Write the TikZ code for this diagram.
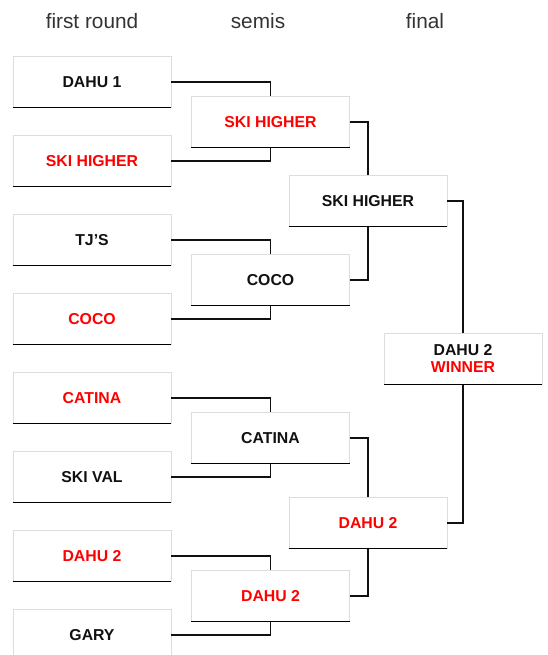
\documentclass[tikz,border=0pt]{standalone}
\usepackage{fontspec}
\setmainfont{Liberation Sans}
\definecolor{winred}{HTML}{FF0000}
\definecolor{txt}{HTML}{111111}
\definecolor{hdr}{HTML}{333333}
\definecolor{edge}{HTML}{DDDDDD}
\begin{document}
\begin{tikzpicture}[x=1pt,y=-1pt,
  team/.style={rectangle,draw=edge,line width=0.8pt,fill=white,minimum width=158pt,minimum height=51pt,
    inner sep=0pt,font=\fontsize{15.8}{18}\selectfont\bfseries,text=txt,align=center},
  win/.style={team,text=winred},
  hdrtext/.style={font=\fontsize{20.8}{24}\selectfont,text=hdr},
  link/.style={line width=1.7pt,draw=txt},
  base/.style={line width=1pt,draw=black}]
\useasboundingbox (0,0) rectangle (548,655);
\begin{scope}
\clip (0,0) rectangle (548,655);
% headers
\node[hdrtext] (h1) at (92,21) {first round};
\node[hdrtext] (h2) at (258,21) {semis};
\node[hdrtext] (h3) at (425,21) {final};
% first round
\node[team] (a1) at (92,82) {DAHU 1};
\node[win]  (a2) at (92,161) {SKI HIGHER};
\node[team] (a3) at (92,240) {TJ’S};
\node[win]  (a4) at (92,319) {COCO};
\node[win]  (a5) at (92,398) {CATINA};
\node[team] (a6) at (92,477) {SKI VAL};
\node[win]  (a7) at (92,556) {DAHU 2};
\node[team] (a8) at (92,635) {GARY};
% semis
\node[win]  (s1) at (270.5,122) {SKI HIGHER};
\node[team] (s2) at (270.5,280) {COCO};
\node[team] (s3) at (270.5,438) {CATINA};
\node[win]  (s4) at (270.5,596) {DAHU 2};
% final
\node[team] (f1) at (368,201) {SKI HIGHER};
\node[win]  (f2) at (368,523) {DAHU 2};
% winner
\node[team] (w) at (463,358.5) {DAHU 2\\[-1pt]\textcolor{winred}{WINNER}};
% links
\draw[link] (a1.east) -| (s1.north);
\draw[link] (a2.east) -| (s1.south);
\draw[link] (a3.east) -| (s2.north);
\draw[link] (a4.east) -| (s2.south);
\draw[link] (a5.east) -| (s3.north);
\draw[link] (a6.east) -| (s3.south);
\draw[link] (a7.east) -| (s4.north);
\draw[link] (a8.east) -| (s4.south);
\draw[link] (s1.east) -| (f1.north);
\draw[link] (s2.east) -| (f1.south);
\draw[link] (s3.east) -| (f2.north);
\draw[link] (s4.east) -| (f2.south);
\draw[link] (f1.east) -| (w.north);
\draw[link] (f2.east) -| (w.south);
% bottom edges
\foreach \n in {a1,a2,a3,a4,a5,a6,a7,a8,s1,s2,s3,s4,f1,f2,w}
  \draw[base] (\n.south west) -- (\n.south east);
\end{scope}
\end{tikzpicture}
\end{document}
